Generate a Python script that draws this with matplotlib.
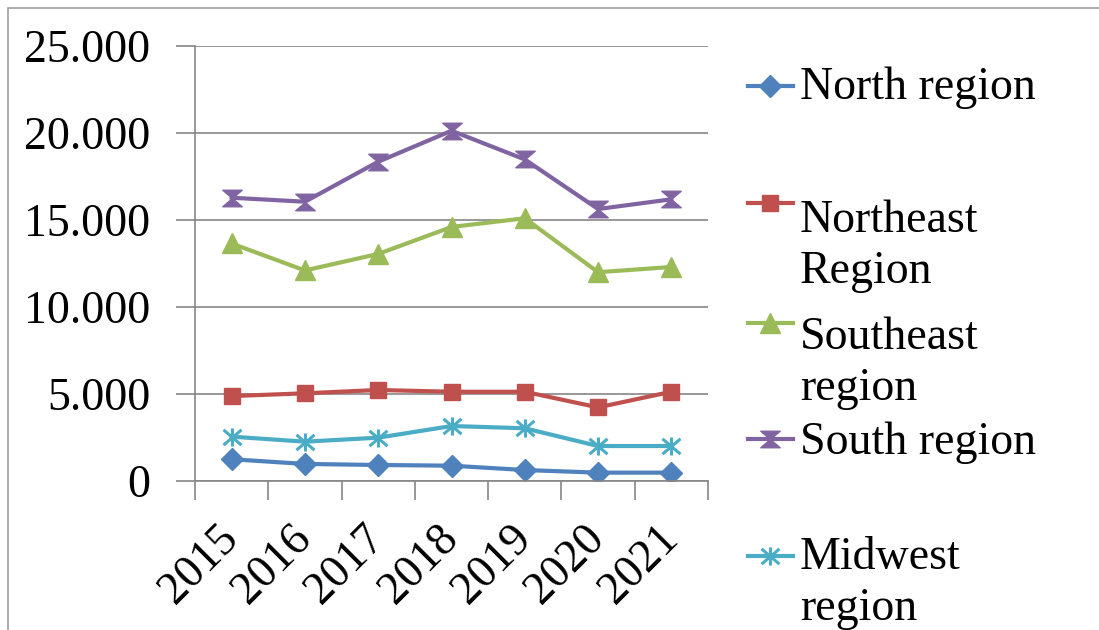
import matplotlib
matplotlib.use('Agg')
import matplotlib.pyplot as plt
from matplotlib.lines import Line2D
from matplotlib.path import Path
from matplotlib.patches import Rectangle
from matplotlib.ticker import FuncFormatter

years = ['2015', '2016', '2017', '2018', '2019', '2020', '2021']
north = [1250, 980, 920, 880, 630, 480, 480]
northeast = [4880, 5040, 5230, 5130, 5130, 4230, 5130]
southeast = [13650, 12100, 13050, 14600, 15100, 12000, 12300]
south = [16280, 16050, 18350, 20130, 18480, 15630, 16190]
midwest = [2550, 2260, 2490, 3160, 3030, 2010, 2010]
labels = ['North region', 'Northeast\nRegion', 'Southeast\nregion', 'South region', 'Midwest\nregion']
yticks = [0, 5000, 10000, 15000, 20000, 25000]

plt.rcParams['font.family'] = ['Liberation Serif', 'DejaVu Serif']

W, H = 1099, 630
fig = plt.figure(figsize=(W / 100, H / 100), dpi=100)
ax = fig.add_axes([195 / W, 1 - 481 / H, (708 - 195) / W, (481 - 46) / H])

hourglass = Path([(-1, 0.85), (1, 0.85), (-1, -0.85), (1, -0.85), (-1, 0.85)],
                 [Path.MOVETO, Path.LINETO, Path.LINETO, Path.LINETO, Path.CLOSEPOLY])
asterisk = Path([(-1, -0.85), (1, 0.85), (-1, 0.85), (1, -0.85), (0, -1), (0, 1)],
                [Path.MOVETO, Path.LINETO, Path.MOVETO, Path.LINETO, Path.MOVETO, Path.LINETO])

styles = [
    ('#4F81BD', 'D', 11, 1.0, 'full'),
    ('#C0504D', 's', 12, 1.0, 'full'),
    ('#9BBB59', '^', 14, 1.0, 'full'),
    ('#8064A2', hourglass, 14, 1.0, 'full'),
    ('#4BACC6', asterisk, 13, 2.2, 'none'),
]
series = [north, northeast, southeast, south, midwest]
x = list(range(len(years)))

for vals, (c, m, ms, mew, fill) in zip(series, styles):
    ax.plot(x, vals, color=c, lw=3, marker=m, ms=ms, mew=mew,
            mfc=(c if fill == 'full' else 'none'), mec=c, solid_joinstyle='round')

ax.set_xlim(-0.5, 6.5)
ax.set_ylim(0, 25000)
ax.set_yticks(yticks)
ax.yaxis.set_major_formatter(FuncFormatter(lambda v, p: f"{int(v):,}".replace(',', '.')))
ax.set_xticks([i - 0.5 for i in range(len(years) + 1)])
ax.set_xticklabels([])
ax.set_xticks(x, years, minor=True)

gc = '#868686'
ax.tick_params(axis='y', which='major', length=14, width=1.2, color=gc, pad=18, labelsize=33)
ax.tick_params(axis='x', which='major', length=14, width=1.2, color=gc)
ax.tick_params(axis='x', which='minor', length=0, pad=37, labelsize=33)
for lbl in ax.get_xticklabels(minor=True):
    lbl.set_rotation(45)
    lbl.set_ha('right')
    lbl.set_va('center')
    lbl.set_rotation_mode('anchor')

ax.yaxis.grid(True, color=gc, lw=1.2)
ax.set_axisbelow(True)
for s in ['top', 'right']:
    ax.spines[s].set_visible(False)
for s in ['left', 'bottom']:
    ax.spines[s].set_color(gc)
    ax.spines[s].set_linewidth(1.2)

# legend (manual, Excel-like wrapped entries); baseline = last line's baseline
marker_y = [86, 203, 323, 439, 556]
text_base = [99, 283, 400, 454, 620]
for lab, (c, m, ms, mew, fill), my, tb in zip(labels, styles, marker_y, text_base):
    fig.add_artist(Line2D([748 / W, 793 / W], [1 - my / H, 1 - my / H],
                          transform=fig.transFigure, color=c, lw=3))
    fig.add_artist(Line2D([770 / W], [1 - my / H], transform=fig.transFigure,
                          color=c, lw=0, marker=m, ms=ms, mew=mew,
                          mfc=(c if fill == 'full' else 'none'), mec=c))
    fig.text(800 / W, 1 - tb / H, lab, fontsize=33, va='baseline', ha='left',
             color='black', linespacing=1.25)

# outer chart frame
fig.add_artist(Rectangle((8 / W, -0.05), 1.2, 1 - 8 / H + 0.05, fill=False,
                         ec='#A0A0A0', lw=1.2, transform=fig.transFigure))

fig.savefig('out.png', dpi=100)
